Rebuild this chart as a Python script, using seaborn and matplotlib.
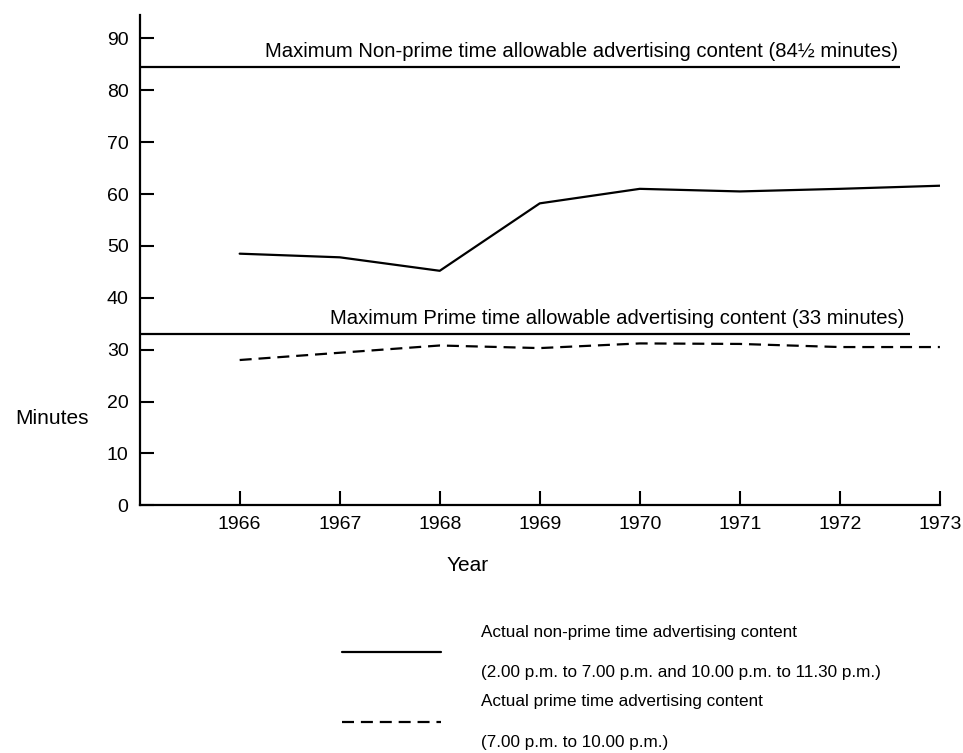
import numpy as np
import pandas as pd
import seaborn as sns
import matplotlib.pyplot as plt

#### data ####
years = [1966, 1967, 1968, 1969, 1970, 1971, 1972, 1973]
non_prime = [48.5, 47.8, 45.2, 58.2, 61.0, 60.5, 61.0, 61.6]   # solid
prime = [28.0, 29.4, 30.8, 30.3, 31.2, 31.1, 30.5, 30.5]       # dashed
max_non_prime = 84.5
max_prime = 33
year_ticks = [1966, 1967, 1968, 1969, 1970, 1971, 1972, 1973]
minute_ticks = [0, 10, 20, 30, 40, 50, 60, 70, 80, 90]

label_np = "Actual non-prime time advertising content\n(2.00 p.m. to 7.00 p.m. and 10.00 p.m. to 11.30 p.m.)"
label_p = "Actual prime time advertising content\n(7.00 p.m. to 10.00 p.m.)"

df = pd.DataFrame({"year": years, "non_prime": non_prime, "prime": prime})

#### plot ####
sns.set_style("ticks")
plt.rcParams["font.family"] = ["Liberation Sans", "DejaVu Sans"]
plt.rcParams.update({"text.color": "black", "axes.labelcolor": "black",
                     "xtick.color": "black", "ytick.color": "black"})

fig = plt.figure(figsize=(9.63, 7.53), dpi=100)
ax = fig.add_axes([0.145, 0.329, 0.831, 0.651])

sns.lineplot(data=df, x="year", y="non_prime", color="black", lw=1.6, ax=ax, label=label_np)
sns.lineplot(data=df, x="year", y="prime", color="black", lw=1.6, ax=ax,
             linestyle=(0, (5.4, 3.1)), label=label_p)

# allowable maximums
ax.hlines(max_non_prime, 1965, 1972.6, color="black", lw=1.6)
ax.hlines(max_prime, 1965, 1972.7, color="black", lw=1.6)
ax.text(1966.25, max_non_prime + 1.2, "Maximum Non-prime time allowable advertising content (84\u00bd minutes)",
        fontsize=14.6, va="bottom")
ax.text(1966.9, max_prime + 1.2, "Maximum Prime time allowable advertising content (33 minutes)",
        fontsize=14.6, va="bottom")

ax.set_xlim(1965, 1973)
ax.set_ylim(0, 94.5)
ax.set_xticks(year_ticks)
ax.set_yticks(minute_ticks)
ax.tick_params(direction="in", length=10, width=1.5, labelsize=14, pad=8)
sns.despine(ax=ax)
for s in ["left", "bottom"]:
    ax.spines[s].set_linewidth(1.6)
    ax.spines[s].set_color("black")

ax.set_xlabel("Year", fontsize=15)
ax.xaxis.set_label_coords(0.41, -0.104)
ax.set_ylabel("Minutes", fontsize=15, rotation=0, ha="left", va="center")
ax.yaxis.set_label_coords(-0.156, 0.178)

# legend below the chart
ax.get_legend().remove()
handles, labels = ax.get_legend_handles_labels()
leg = fig.legend(handles, labels, loc="upper left", bbox_to_anchor=(0.339, 0.191),
                 frameon=False, fontsize=12.3, handlelength=5.8, handletextpad=2.35,
                 labelspacing=0.8)
for t in leg.get_texts():
    t.set_linespacing(3.15)

plt.savefig("out.png", dpi=100)
